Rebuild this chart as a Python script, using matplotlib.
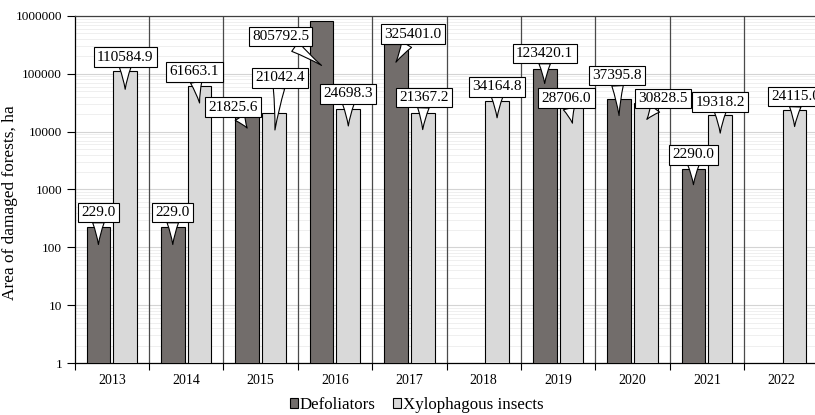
import numpy as np
import matplotlib
matplotlib.use("Agg")
import matplotlib.pyplot as plt
from matplotlib.ticker import FixedLocator, FuncFormatter, NullFormatter, LogLocator
from matplotlib.transforms import offset_copy

plt.rcParams["font.family"] = ["Liberation Serif", "DejaVu Serif"]

years = ["2013", "2014", "2015", "2016", "2017", "2018", "2019", "2020", "2021", "2022"]
defoliators = [229.0, 229.0, 21825.6, 805792.5, 325401.0, np.nan, 123420.1, 37395.8, 2290.0, np.nan]
xylophagous = [110584.9, 61663.1, 21042.4, 24698.3, 21367.2, 34164.8, 28706.0, 30828.5, 19318.2, 24115.0]
series_names = ["Defoliators", "Xylophagous insects"]

# Callout layout, in pixels relative to the top of each bar (down = positive):
# (tip_dx, tip_dy, box_dx, box_dy)
defol_callouts = [(0, 18, 0, -14), (0, 18, 0, -14), (0, 16, -14, -5), (0, 44, -41, 15),
                  (0, 18, 17, -10), None, (0, 15, 0, -15), (0, 17, -2, -23),
                  (0, 16, 0, -14), None]
xylo_callouts = [(0, 18, 0, -14), (0, 17, -5, -14), (1, 17, 6, -35), (0, 17, 0, -15),
                 (0, 17, 1, -15), (0, 17, 0, -14), (1, 18, -5, -7), (1, 16, 17, -5),
                 (0, 18, 0, -13), (0, 17, 1, -13)]

W, H, DPI = 815, 415, 100
fig = plt.figure(figsize=(W / DPI, H / DPI), dpi=DPI)
ax = fig.add_axes([74.6 / W, 52 / H, 743.8 / W, 347 / H])
ax.set_axisbelow(True)

x = np.arange(len(years))
off, bw = 0.18, 0.32
dark, light = "#726d6b", "#d9d9d9"

ax.bar(x - off, defoliators, bw, color=dark, edgecolor="black", linewidth=0.8,
       zorder=3, label=series_names[0])
ax.bar(x + off, xylophagous, bw, color=light, edgecolor="black", linewidth=0.8,
       zorder=3, label=series_names[1])

ax.set_yscale("log")
ax.set_ylim(1, 1e6)
ax.set_xlim(-0.5, len(years) - 0.5)

# y axis
ax.yaxis.set_major_locator(FixedLocator([10 ** k for k in range(7)]))
ax.yaxis.set_major_formatter(FuncFormatter(lambda v, p: f"{int(round(v))}"))
ax.yaxis.set_minor_locator(LogLocator(base=10, subs=np.arange(2, 10)))
ax.yaxis.set_minor_formatter(NullFormatter())
ax.tick_params(axis="y", which="major", length=6, width=0.8, labelsize=9.5, pad=3)
ax.tick_params(axis="y", which="minor", length=0)
ax.grid(axis="y", which="major", color="#d4d4d4", linewidth=0.8)
ax.grid(axis="y", which="minor", color="#ececec", linewidth=0.6)

# x axis: year labels at centres, ticks and separators at boundaries
bounds = np.arange(len(years) + 1) - 0.5
ax.set_xticks(x)
ax.set_xticklabels(years)
ax.set_xticks(bounds, minor=True)
ax.tick_params(axis="x", which="major", length=0, labelsize=10, pad=8)
ax.tick_params(axis="x", which="minor", length=5, width=0.8)
for b in bounds[1:]:
    ax.axvline(b, color="#4a4a4a", linewidth=0.9, zorder=2)

for s in ("left", "bottom"):
    ax.spines[s].set_color("black")
    ax.spines[s].set_linewidth(0.9)
ax.spines["top"].set_color("#404040")
ax.spines["top"].set_linewidth(0.9)
ax.spines["right"].set_visible(False)

ax.set_ylabel("Area of damaged forests, ha", fontsize=12.4)
ax.yaxis.set_label_coords(-56.6 / 743.8, 0.461)

def callout(xpos, value, spec):
    if spec is None or np.isnan(value):
        return
    tdx, tdy, bdx, bdy = spec
    tip = offset_copy(ax.transData, fig=fig, x=tdx, y=-tdy, units="dots")
    ax.annotate(f"{value:.1f}", xy=(xpos, value), xycoords=tip,
                xytext=(bdx - tdx, -(bdy - tdy)), textcoords="offset pixels",
                ha="center", va="center", fontsize=11, zorder=5,
                bbox=dict(boxstyle="square,pad=0.22", fc="white", ec="black", lw=0.8),
                arrowprops=dict(arrowstyle="wedge,tail_width=0.75,shrink_factor=0.4",
                                fc="white", ec="black", lw=0.8, shrinkA=0, shrinkB=0))

for i in range(len(years)):
    callout(x[i] - off, defoliators[i], defol_callouts[i])
    callout(x[i] + off, xylophagous[i], xylo_callouts[i])

fig.legend(loc="lower center", bbox_to_anchor=(0.511, -0.032), ncol=2, frameon=False,
           fontsize=12.2, handlelength=0.5, handleheight=0.5, handletextpad=0.1,
           columnspacing=1.0)

fig.savefig("out.png", dpi=DPI)
